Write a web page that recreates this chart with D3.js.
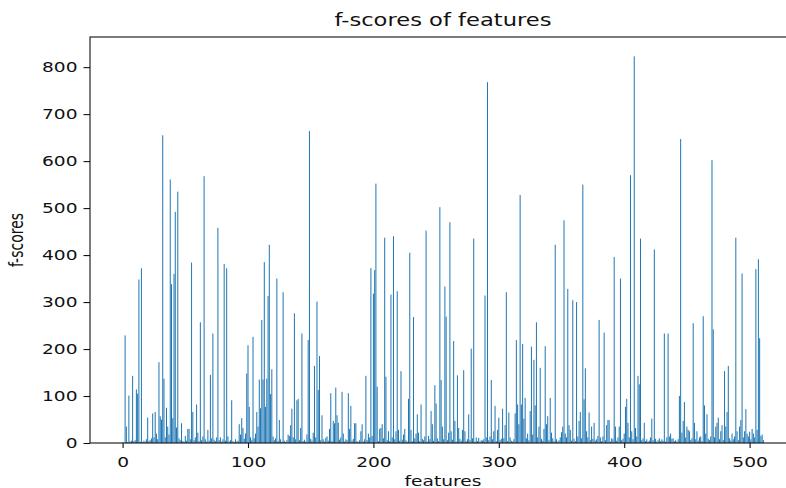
<!DOCTYPE html>
<html>
<head>
<meta charset="utf-8">
<script src="https://cdn.jsdelivr.net/npm/d3@7/dist/d3.min.js"></script>
<style>
  html, body { margin: 0; padding: 0; background: #fff; }
  svg { display: block; font-family: "DejaVu Sans", sans-serif; }
</style>
</head>
<body>
<svg id="chart" width="786" height="488"></svg>
<script>
// f-score of each feature, indexed by feature number
const fScores = [
  1,0,229,35,2,101,3,5,143,4,6,114,105,348,3,372,
  2,5,3,8,54,4,6,10,63,12,66,20,8,172,57,50,
  655,137,12,75,35,18,561,338,53,360,492,33,535,10,6,42,
  4,3,15,5,30,30,8,384,66,6,12,82,22,4,257,6,
  14,568,8,3,28,5,145,10,233,7,4,12,458,6,12,3,
  8,381,5,372,14,3,6,91,4,2,8,3,5,40,18,53,
  32,9,20,148,208,77,12,6,226,10,20,66,35,135,74,262,
  135,385,77,137,313,422,104,157,14,6,10,350,4,49,8,3,
  321,5,2,6,18,15,38,73,12,276,8,91,94,6,32,233,
  4,7,3,18,219,664,9,5,22,164,12,301,113,185,6,59,
  8,3,11,14,5,30,106,4,47,42,118,59,43,7,12,109,
  20,3,8,6,106,30,79,5,9,42,42,4,2,6,25,40,
  3,8,143,6,20,12,372,15,318,368,552,120,4,30,32,40,
  10,437,141,6,25,4,316,12,440,8,25,323,28,5,153,7,
  18,30,6,3,94,405,28,4,268,10,20,61,22,4,82,9,
  6,14,452,3,15,8,68,40,5,123,84,10,4,502,134,35,
  8,333,269,6,22,470,25,7,217,47,3,144,32,9,5,28,
  155,25,4,8,61,6,201,10,435,3,12,4,11,3,6,5,
  8,314,12,768,6,14,134,8,25,79,4,28,54,6,9,73,
  10,38,321,4,65,12,5,3,8,63,219,82,40,528,82,211,
  52,96,10,20,6,68,205,18,177,80,257,12,35,160,9,5,
  30,206,40,57,6,96,22,10,4,422,8,3,6,12,23,35,
  474,20,12,328,38,28,5,304,9,4,300,14,47,66,10,550,
  93,159,25,12,65,6,35,9,43,5,8,15,262,12,4,14,
  235,6,38,49,49,3,10,8,396,35,5,12,35,350,6,9,
  20,77,94,43,12,570,25,8,823,32,14,143,125,435,6,10,
  43,4,8,3,5,12,52,6,412,9,3,6,10,4,8,5,
  233,3,12,233,14,20,9,10,4,6,3,8,100,647,22,47,
  87,12,35,28,25,6,10,255,43,8,25,5,12,14,4,270,
  80,20,61,9,6,14,602,242,12,35,43,54,8,25,38,6,
  153,35,66,164,10,5,20,8,14,437,25,6,35,49,361,12,
  25,72,20,14,24,8,30,20,12,370,28,391,223,15,18,6
];

// feature numbers along the x axis
const features = fScores.map((_, i) => i);

// tick values on both axes
const xTickValues = [0, 100, 200, 300, 400, 500];
const yTickValues = [0, 100, 200, 300, 400, 500, 600, 700, 800];

const titleText = "f-scores of features";
const xLabelText = "features";
const yLabelText = "f-scores";

// ---- layout ----
const plot = { left: 90, top: 37, right: 796, bottom: 443 };
const sx = 1.33;              // horizontal stretch applied to all text
const barColor = "#1f77b4";
const ink = "#111";

const svg = d3.select("#chart");

const barWidth = 0.8;
const xPad = (features.length - 1 + barWidth) * 0.05;
const x = d3.scaleLinear()
  .domain([-barWidth / 2 - xPad, features.length - 1 + barWidth / 2 + xPad])
  .range([plot.left, plot.right]);

const yMax = d3.max(fScores) * 1.05;
const y = d3.scaleLinear()
  .domain([0, yMax])
  .range([plot.bottom, plot.top]);

svg.append("defs").append("clipPath").attr("id", "plotClip")
  .append("rect")
  .attr("x", plot.left).attr("y", plot.top)
  .attr("width", plot.right - plot.left).attr("height", plot.bottom - plot.top);

// bars
svg.append("g")
  .attr("clip-path", "url(#plotClip)")
  .selectAll("rect")
  .data(features)
  .join("rect")
  .attr("x", d => x(d - barWidth / 2))
  .attr("width", d => x(d + barWidth / 2) - x(d - barWidth / 2))
  .attr("y", d => y(fScores[d]))
  .attr("height", d => y(0) - y(fScores[d]))
  .attr("fill", barColor);

// axes
const xAxis = svg.append("g")
  .attr("transform", `translate(0,${plot.bottom})`)
  .call(d3.axisBottom(x).tickValues(xTickValues).tickFormat(d3.format("d")).tickSize(5).tickSizeOuter(0));
xAxis.select(".domain").remove();
xAxis.selectAll("line").attr("stroke", ink).attr("stroke-width", 1.1);
xAxis.selectAll("text")
  .attr("fill", ink)
  .attr("font-size", 14)
  .attr("font-family", "DejaVu Sans, sans-serif")
  .attr("y", 14)
  .attr("transform", `scale(${sx},1)`);

const yAxis = svg.append("g")
  .attr("transform", `translate(${plot.left},0)`)
  .call(d3.axisLeft(y).tickValues(yTickValues).tickFormat(d3.format("d")).tickSize(6.5).tickSizeOuter(0));
yAxis.select(".domain").remove();
yAxis.selectAll("line").attr("stroke", ink).attr("stroke-width", 1.1);
yAxis.selectAll("text")
  .attr("fill", ink)
  .attr("font-size", 14)
  .attr("font-family", "DejaVu Sans, sans-serif")
  .attr("x", -12.5 / sx)
  .attr("transform", `scale(${sx},1)`);

// frame
svg.append("rect")
  .attr("x", plot.left).attr("y", plot.top)
  .attr("width", plot.right - plot.left).attr("height", plot.bottom - plot.top)
  .attr("fill", "none").attr("stroke", ink).attr("stroke-width", 1.1);

// title and axis labels
svg.append("text")
  .attr("transform", `translate(${(plot.left + plot.right) / 2},26) scale(${sx},1)`)
  .attr("text-anchor", "middle")
  .attr("font-size", 17)
  .attr("fill", ink)
  .text(titleText);

svg.append("text")
  .attr("transform", `translate(${(plot.left + plot.right) / 2},486) scale(${sx},1)`)
  .attr("text-anchor", "middle")
  .attr("font-size", 14)
  .attr("fill", ink)
  .text(xLabelText);

svg.append("text")
  .attr("transform", `translate(23,${(plot.top + plot.bottom) / 2}) scale(${sx},1) rotate(-90)`)
  .attr("text-anchor", "middle")
  .attr("font-size", 14)
  .attr("fill", ink)
  .text(yLabelText);
</script>
</body>
</html>
